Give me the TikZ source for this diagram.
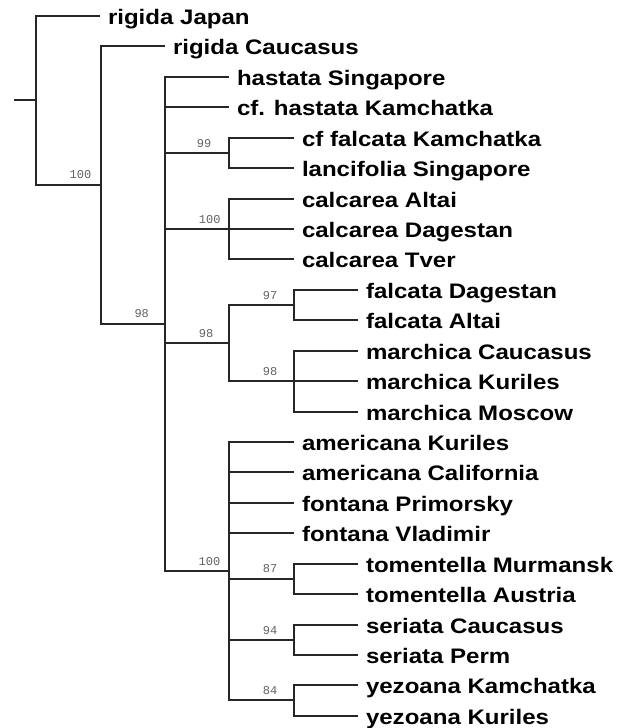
\documentclass[tikz,border=0pt]{standalone}
\usepackage{fontspec}
\setmainfont{Liberation Sans}
\newfontfamily\monofnt{Liberation Mono}
\usepackage{graphicx}
\newcommand\sx[1]{\scalebox{1.145}[1]{#1}}
\begin{document}
\begin{tikzpicture}[x=1pt,y=-1pt,
  br/.style={line width=2pt, draw=black!85, line join=miter},
  leaf/.style={anchor=west, inner sep=0pt, outer ysep=0pt, outer xsep=8pt,
    text height=16pt, text depth=0pt, font=\fontsize{21}{25}\selectfont\bfseries},
  bs/.style={anchor=base, inner sep=0pt, text=black!62, font=\monofnt\fontsize{12}{14}\selectfont}]
\useasboundingbox (0,0) rectangle (627,728);
% internal nodes
\coordinate (R) at (14,100);
\coordinate (A) at (36,100);
\coordinate (B) at (101,185);
\coordinate (C) at (165,324);
\coordinate (D) at (229,153);
\coordinate (E) at (229,229);
\coordinate (F) at (229,343);
\coordinate (G) at (294,305);
\coordinate (H) at (294,381);
\coordinate (I) at (229,571);
\coordinate (J) at (294,579);
\coordinate (K) at (294,640);
\coordinate (L) at (294,700);
% leaves
\node[leaf] (l1)  at (100,16)  {\sx{rigida Japan}};
\node[leaf] (l2)  at (165,46)  {\sx{rigida Caucasus}};
\node[leaf] (l3)  at (229,77)  {\sx{hastata Singapore}};
\node[leaf] (l4)  at (229,107) {\sx{cf. hastata Kamchatka}};
\node[leaf] (l5)  at (294,138) {\sx{cf falcata Kamchatka}};
\node[leaf] (l6)  at (294,168) {\sx{lancifolia Singapore}};
\node[leaf] (l7)  at (294,199) {\sx{calcarea Altai}};
\node[leaf] (l8)  at (294,229) {\sx{calcarea Dagestan}};
\node[leaf] (l9)  at (294,259) {\sx{calcarea Tver}};
\node[leaf] (l10) at (358,290) {\sx{falcata Dagestan}};
\node[leaf] (l11) at (358,320) {\sx{falcata Altai}};
\node[leaf] (l12) at (358,351) {\sx{marchica Caucasus}};
\node[leaf] (l13) at (358,381) {\sx{marchica Kuriles}};
\node[leaf] (l14) at (358,412) {\sx{marchica Moscow}};
\node[leaf] (l15) at (294,442) {\sx{americana Kuriles}};
\node[leaf] (l16) at (294,472) {\sx{americana California}};
\node[leaf] (l17) at (294,503) {\sx{fontana Primorsky}};
\node[leaf] (l18) at (294,533) {\sx{fontana Vladimir}};
\node[leaf] (l19) at (358,564) {\sx{tomentella Murmansk}};
\node[leaf] (l20) at (358,594) {\sx{tomentella Austria}};
\node[leaf] (l21) at (358,625) {\sx{seriata Caucasus}};
\node[leaf] (l22) at (358,655) {\sx{seriata Perm}};
\node[leaf] (l23) at (358,685) {\sx{yezoana Kamchatka}};
\node[leaf] (l24) at (358,716) {\sx{yezoana Kuriles}};
% branches
\draw[br] (R) -- (A);
\draw[br] (A) |- (l1.west);
\draw[br] (A) |- (B);
\draw[br] (B) |- (l2.west);
\draw[br] (B) |- (C);
\draw[br] (C) |- (l3.west);
\draw[br] (C) |- (l4.west);
\draw[br] (C) |- (D);
\draw[br] (C) |- (E);
\draw[br] (C) |- (F);
\draw[br] (C) |- (I);
\draw[br] (D) |- (l5.west);
\draw[br] (D) |- (l6.west);
\draw[br] (E) |- (l7.west);
\draw[br] (E) |- (l8.west);
\draw[br] (E) |- (l9.west);
\draw[br] (F) |- (G);
\draw[br] (F) |- (H);
\draw[br] (G) |- (l10.west);
\draw[br] (G) |- (l11.west);
\draw[br] (H) |- (l12.west);
\draw[br] (H) |- (l13.west);
\draw[br] (H) |- (l14.west);
\draw[br] (I) |- (l15.west);
\draw[br] (I) |- (l16.west);
\draw[br] (I) |- (l17.west);
\draw[br] (I) |- (l18.west);
\draw[br] (I) |- (J);
\draw[br] (I) |- (K);
\draw[br] (I) |- (L);
\draw[br] (J) |- (l19.west);
\draw[br] (J) |- (l20.west);
\draw[br] (K) |- (l21.west);
\draw[br] (K) |- (l22.west);
\draw[br] (L) |- (l23.west);
\draw[br] (L) |- (l24.west);
% bootstrap values
\node[bs] (nB) at (80.5,178.5) {100};
\node[bs] (nC) at (141.7,317) {98};
\node[bs] (nD) at (204,147) {99};
\node[bs] (nE) at (209.7,223) {100};
\node[bs] (nF) at (206,337) {98};
\node[bs] (nG) at (270,299) {97};
\node[bs] (nH) at (270,375) {98};
\node[bs] (nI) at (209.5,565) {100};
\node[bs] (nJ) at (270,572.5) {87};
\node[bs] (nK) at (270,634) {94};
\node[bs] (nL) at (270,694) {84};
\end{tikzpicture}
\end{document}
